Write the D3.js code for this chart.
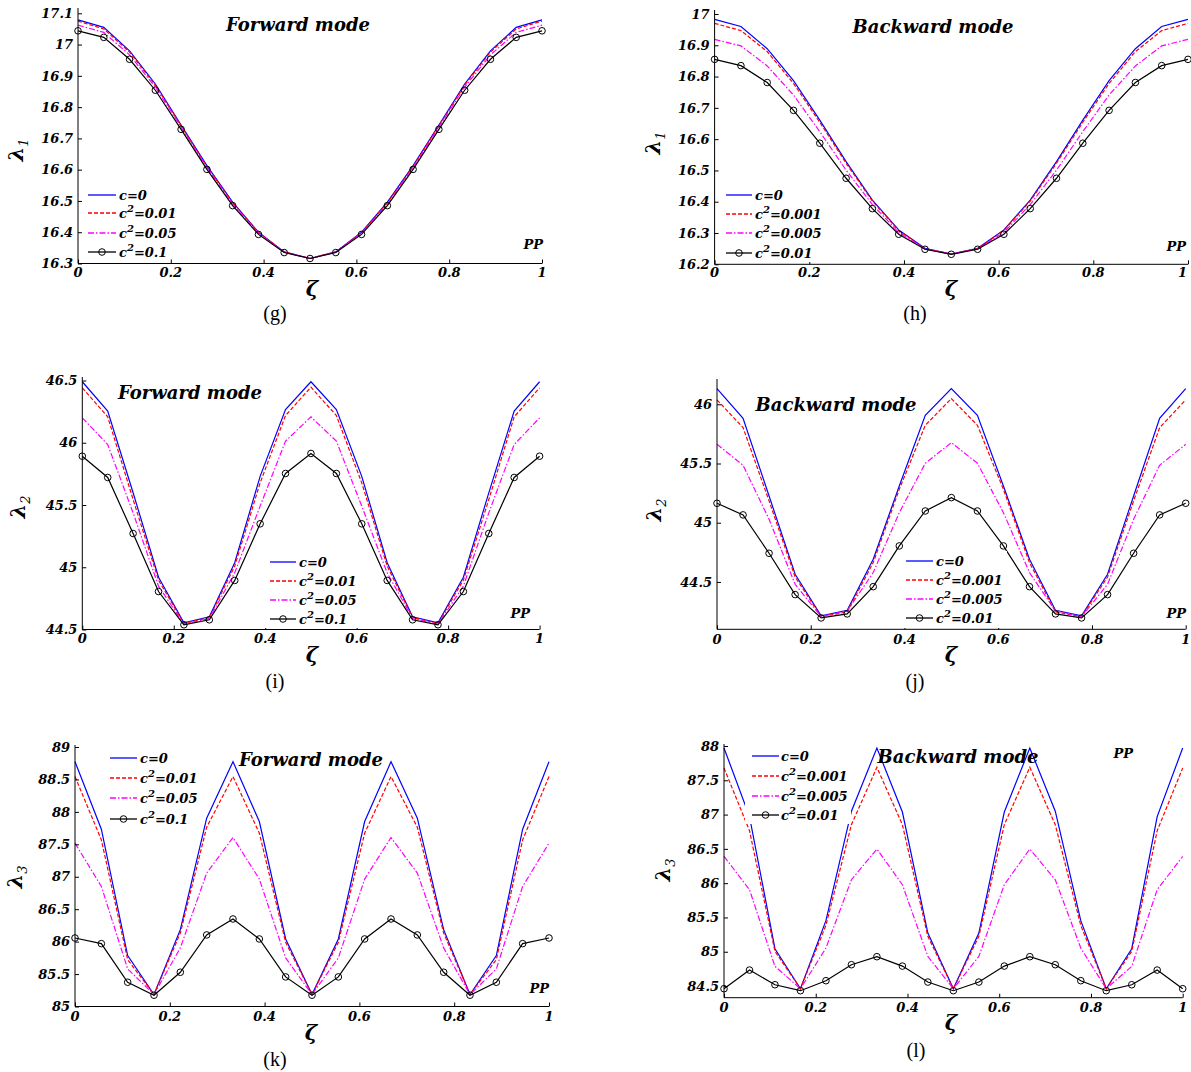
<!DOCTYPE html>
<html>
<head>
<meta charset="utf-8">
<script src="https://cdn.jsdelivr.net/npm/d3@7"></script>
<style>
  body { margin: 0; background: #fff; }
  svg { display: block; }
</style>
</head>
<body>
<svg id="fig" width="1191" height="1072"></svg>
<script>
// Dimensionless position along the period
const zeta = [0, 0.0556, 0.1111, 0.1667, 0.2222, 0.2778, 0.3333, 0.3889, 0.4444, 0.5,
              0.5556, 0.6111, 0.6667, 0.7222, 0.7778, 0.8333, 0.8889, 0.9444, 1];

// (g) first eigenvalue, forward mode
const g_c0   = [17.079, 17.055, 16.980, 16.874, 16.743, 16.613, 16.496, 16.400, 16.337, 16.316, 16.337, 16.400, 16.496, 16.613, 16.743, 16.874, 16.980, 17.055, 17.079];
const g_c001 = [17.075, 17.050, 16.976, 16.870, 16.740, 16.610, 16.494, 16.399, 16.337, 16.316, 16.337, 16.399, 16.494, 16.610, 16.740, 16.870, 16.976, 17.050, 17.075];
const g_c005 = [17.062, 17.039, 16.967, 16.864, 16.736, 16.607, 16.490, 16.397, 16.336, 16.316, 16.336, 16.397, 16.490, 16.607, 16.736, 16.864, 16.967, 17.039, 17.062];
const g_c01  = [17.044, 17.023, 16.953, 16.854, 16.729, 16.601, 16.485, 16.393, 16.335, 16.316, 16.335, 16.393, 16.485, 16.601, 16.729, 16.854, 16.953, 17.023, 17.044];

// (h) first eigenvalue, backward mode
const h_c0    = [16.983, 16.960, 16.889, 16.787, 16.661, 16.528, 16.405, 16.310, 16.251, 16.233, 16.251, 16.310, 16.405, 16.528, 16.661, 16.787, 16.889, 16.960, 16.983];
const h_c0001 = [16.970, 16.947, 16.880, 16.778, 16.654, 16.523, 16.402, 16.308, 16.250, 16.233, 16.250, 16.308, 16.402, 16.523, 16.654, 16.778, 16.880, 16.947, 16.970];
const h_c0005 = [16.919, 16.898, 16.834, 16.741, 16.624, 16.501, 16.391, 16.302, 16.249, 16.233, 16.249, 16.302, 16.391, 16.501, 16.624, 16.741, 16.834, 16.898, 16.919];
const h_c001  = [16.855, 16.835, 16.781, 16.692, 16.587, 16.475, 16.378, 16.296, 16.248, 16.232, 16.248, 16.296, 16.378, 16.475, 16.587, 16.692, 16.781, 16.835, 16.855];

// (i) second eigenvalue, forward mode
const i_c0   = [46.490, 46.254, 45.598, 44.920, 44.554, 44.602, 45.036, 45.730, 46.267, 46.490, 46.267, 45.730, 45.036, 44.602, 44.554, 44.920, 45.598, 46.254, 46.490];
const i_c001 = [46.441, 46.208, 45.544, 44.896, 44.548, 44.596, 45.009, 45.678, 46.219, 46.446, 46.219, 45.678, 45.009, 44.596, 44.548, 44.896, 45.544, 46.208, 46.441];
const i_c005 = [46.200, 45.986, 45.437, 44.848, 44.543, 44.588, 44.955, 45.491, 46.013, 46.208, 46.013, 45.491, 44.955, 44.588, 44.543, 44.848, 45.437, 45.986, 46.200];
const i_c01  = [45.892, 45.721, 45.271, 44.805, 44.538, 44.578, 44.894, 45.349, 45.753, 45.914, 45.753, 45.349, 44.894, 44.578, 44.538, 44.805, 45.271, 45.721, 45.892];

// (j) second eigenvalue, backward mode
const j_c0    = [46.132, 45.882, 45.226, 44.565, 44.213, 44.261, 44.691, 45.310, 45.907, 46.132, 45.907, 45.310, 44.691, 44.261, 44.213, 44.565, 45.226, 45.882, 46.132];
const j_c0001 = [46.037, 45.803, 45.184, 44.542, 44.207, 44.247, 44.663, 45.282, 45.823, 46.048, 45.823, 45.282, 44.663, 44.247, 44.207, 44.542, 45.184, 45.803, 46.037];
const j_c0005 = [45.662, 45.485, 45.029, 44.480, 44.207, 44.255, 44.579, 45.085, 45.502, 45.676, 45.502, 45.085, 44.579, 44.255, 44.207, 44.480, 45.029, 45.485, 45.662];
const j_c001  = [45.164, 45.066, 44.742, 44.393, 44.196, 44.230, 44.460, 44.804, 45.099, 45.212, 45.099, 44.804, 44.460, 44.230, 44.196, 44.393, 44.742, 45.066, 45.164];

// (k) third eigenvalue, forward mode
const k_c0   = [88.774, 87.733, 85.785, 85.185, 86.185, 87.903, 88.774, 87.851, 86.041, 85.185, 86.041, 87.851, 88.774, 87.903, 86.185, 85.185, 85.785, 87.733, 88.774];
const k_c001 = [88.544, 87.569, 85.723, 85.185, 86.133, 87.764, 88.544, 87.672, 85.990, 85.185, 85.990, 87.672, 88.544, 87.764, 86.133, 85.185, 85.723, 87.569, 88.544];
const k_c005 = [87.518, 86.851, 85.579, 85.185, 85.903, 87.056, 87.605, 86.964, 85.749, 85.185, 85.749, 86.964, 87.605, 87.056, 85.903, 85.185, 85.579, 86.851, 87.518];
const k_c01  = [86.056, 85.969, 85.374, 85.174, 85.528, 86.103, 86.349, 86.041, 85.456, 85.174, 85.456, 86.041, 86.349, 86.103, 85.528, 85.174, 85.374, 85.969, 86.056];

// (l) third eigenvalue, backward mode
const l_c0    = [87.971, 86.970, 85.044, 84.461, 85.453, 87.050, 87.971, 87.037, 85.273, 84.461, 85.273, 87.037, 87.971, 87.050, 85.453, 84.461, 85.044, 86.970, 87.971];
const l_c0001 = [87.679, 86.765, 85.005, 84.461, 85.385, 86.853, 87.689, 86.853, 85.224, 84.461, 85.224, 86.853, 87.689, 86.853, 85.385, 84.461, 85.005, 86.765, 87.679];
const l_c0005 = [86.391, 85.905, 84.787, 84.461, 85.054, 86.050, 86.498, 85.978, 84.932, 84.461, 84.932, 85.978, 86.498, 86.050, 85.054, 84.461, 84.787, 85.905, 86.391];
const l_c001  = [84.461, 84.733, 84.519, 84.432, 84.578, 84.811, 84.928, 84.791, 84.558, 84.432, 84.558, 84.791, 84.928, 84.811, 84.578, 84.432, 84.519, 84.733, 84.461];

// Tick labels
const xTicks = [0, 0.2, 0.4, 0.6, 0.8, 1];
const yTicksG = [16.3, 16.4, 16.5, 16.6, 16.7, 16.8, 16.9, 17, 17.1];
const yTicksH = [16.2, 16.3, 16.4, 16.5, 16.6, 16.7, 16.8, 16.9, 17];
const yTicksI = [44.5, 45, 45.5, 46, 46.5];
const yTicksJ = [44.5, 45, 45.5, 46];
const yTicksK = [85, 85.5, 86, 86.5, 87, 87.5, 88, 88.5, 89];
const yTicksL = [84.5, 85, 85.5, 86, 86.5, 87, 87.5, 88];

// Legend entries: [base symbol, superscript, value text]
const legendForward  = [["c", "", "=0"], ["c", "2", "=0.01"], ["c", "2", "=0.05"], ["c", "2", "=0.1"]];
const legendBackward = [["c", "", "=0"], ["c", "2", "=0.001"], ["c", "2", "=0.005"], ["c", "2", "=0.01"]];

// Line styles, one per curve
const styles = [
  { stroke: "#0000ff", dash: null, marker: false },
  { stroke: "#ff0000", dash: "4,2", marker: false },
  { stroke: "#ff00ff", dash: "6,2,1.5,2", marker: false },
  { stroke: "#000000", dash: null, marker: true }
];

const panels = [
  { tag: "(g)", title: "Forward mode", sub: "1", series: [g_c0, g_c001, g_c005, g_c01], legend: legendForward,
    yTicks: yTicksG, yDomain: [16.3, 17.1], x0: 78, x1: 542, yB: 263.5, yT: 13.3, axisTop: 8,
    titleXY: [298, 31], ppXY: [543, 249], lamXY: [23, 150], zetaXY: [312, 296], tagXY: [275, 320], xLabY: 277,
    leg: { bx: 84, by: 184, bw: 86, bh: 78, lx0: 88, lx1: 116, tx: 119, rows: [195, 213, 233, 252] } },
  { tag: "(h)", title: "Backward mode", sub: "1", series: [h_c0, h_c0001, h_c0005, h_c001], legend: legendBackward,
    yTicks: yTicksH, yDomain: [16.2, 17.0], x0: 714.6, x1: 1188, yB: 264.3, yT: 14, axisTop: 10,
    titleXY: [933, 33], ppXY: [1186, 251], lamXY: [660, 143], zetaXY: [951, 296], tagXY: [915, 320], xLabY: 277,
    leg: { bx: 721, by: 184, bw: 94, bh: 78, lx0: 726, lx1: 752, tx: 755, rows: [195, 214, 233, 253] } },
  { tag: "(i)", title: "Forward mode", sub: "2", series: [i_c0, i_c001, i_c005, i_c01], legend: legendForward,
    yTicks: yTicksI, yDomain: [44.5, 46.5], x0: 82.3, x1: 539.6, yB: 629.5, yT: 380.5, axisTop: 377,
    titleXY: [190, 399], ppXY: [530, 618], lamXY: [25, 507], zetaXY: [312, 662], tagXY: [275, 688], xLabY: 643,
    leg: { bx: 265, by: 551, bw: 100, bh: 77, lx0: 270, lx1: 296, tx: 299, rows: [562, 581, 600, 619] } },
  { tag: "(j)", title: "Backward mode", sub: "2", series: [j_c0, j_c0001, j_c0005, j_c001], legend: legendBackward,
    yTicks: yTicksJ, yDomain: [44.1, 46.2], x0: 717, x1: 1185.7, yB: 629.3, yT: 380.6, axisTop: 379,
    titleXY: [836, 411], ppXY: [1186, 618], lamXY: [661, 510], zetaXY: [951, 662], tagXY: [915, 688], xLabY: 644,
    leg: { bx: 902, by: 551, bw: 105, bh: 77, lx0: 906, lx1: 933, tx: 936, rows: [561, 580, 599, 618] } },
  { tag: "(k)", title: "Forward mode", sub: "3", series: [k_c0, k_c001, k_c005, k_c01], legend: legendForward,
    yTicks: yTicksK, yDomain: [85, 89], x0: 75, x1: 549, yB: 1006.5, yT: 747, axisTop: 745,
    titleXY: [311, 766], ppXY: [549, 993], lamXY: [22, 877], zetaXY: [311, 1040], tagXY: [275, 1066], xLabY: 1021,
    leg: { bx: 106, by: 748, bw: 94, bh: 79, lx0: 110, lx1: 137, tx: 140, rows: [758, 778, 798, 819] } },
  { tag: "(l)", title: "Backward mode", sub: "3", series: [l_c0, l_c0001, l_c0005, l_c001], legend: legendBackward,
    yTicks: yTicksL, yDomain: [84.33, 88], x0: 724, x1: 1182.7, yB: 997.7, yT: 746, axisTop: 744,
    titleXY: [958, 763], ppXY: [1133, 758], lamXY: [670, 870], zetaXY: [951, 1030], tagXY: [916, 1057], xLabY: 1012,
    leg: { bx: 745, by: 744, bw: 106, bh: 80, lx0: 752, lx1: 779, tx: 781, rows: [756, 776, 796, 815] } }
];

const svg = d3.select("#fig");
const W = +svg.attr("width");
const tickFont = "'DejaVu Serif', serif";
const fmt = v => String(+v.toFixed(2));

panels.forEach(p => {
  const x = d3.scaleLinear().domain([0, 1]).range([p.x0, p.x1]);
  const y = d3.scaleLinear().domain(p.yDomain).range([p.yB, p.yT]);
  const g = svg.append("g");

  // Curves
  p.series.forEach((vals, si) => {
    const st = styles[si];
    const pts = zeta.map((z, i) => [z, vals[i]]);
    g.append("path")
      .datum(pts)
      .attr("fill", "none")
      .attr("stroke", st.stroke)
      .attr("stroke-width", 1.2)
      .attr("stroke-dasharray", st.dash)
      .attr("d", d3.line().x(d => x(d[0])).y(d => y(d[1])));
    if (st.marker) {
      g.selectAll(null).data(pts).enter().append("circle")
        .attr("cx", d => x(d[0])).attr("cy", d => y(d[1]))
        .attr("r", 3.3).attr("fill", "none")
        .attr("stroke", st.stroke).attr("stroke-width", 1);
    }
  });

  // Axes (left and bottom, ticks pointing inward)
  const xAxis = d3.axisBottom(x).tickValues(xTicks).tickSize(-4).tickFormat(fmt).tickSizeOuter(0);
  const gx = g.append("g").attr("transform", `translate(0,${p.yB})`).call(xAxis);
  gx.select(".domain").attr("stroke", "#000").attr("d", `M${p.x0},0H${p.x1}`);
  gx.selectAll(".tick line").attr("stroke", "#000");
  gx.selectAll(".tick text").remove();
  g.selectAll(null).data(xTicks).enter().append("text")
    .attr("x", d => Math.min(x(d), W - 4)).attr("y", p.xLabY)
    .attr("text-anchor", d => x(d) > W - 4 ? "end" : "middle")
    .style("font-family", tickFont).style("font-weight", "bold").style("font-style", "italic")
    .style("font-size", "13px")
    .text(fmt);

  const yAxis = d3.axisLeft(y).tickValues(p.yTicks).tickSize(-4).tickSizeOuter(0).tickFormat(fmt);
  const gy = g.append("g").attr("transform", `translate(${p.x0},0)`).call(yAxis);
  gy.select(".domain").attr("stroke", "#000").attr("d", `M0,${p.axisTop}V${p.yB}`);
  gy.selectAll(".tick line").attr("stroke", "#000");
  gy.selectAll(".tick text")
    .attr("x", -5)
    .style("font-family", tickFont).style("font-weight", "bold").style("font-style", "italic")
    .style("font-size", "13px").attr("fill", "#000");

  // Legend with opaque background
  const L = p.leg;
  g.append("rect").attr("x", L.bx).attr("y", L.by).attr("width", L.bw).attr("height", L.bh).attr("fill", "#fff");
  p.legend.forEach((ent, si) => {
    const st = styles[si];
    const ry = L.rows[si];
    g.append("line").attr("x1", L.lx0).attr("x2", L.lx1).attr("y1", ry).attr("y2", ry)
      .attr("stroke", st.stroke).attr("stroke-width", 1.3).attr("stroke-dasharray", st.dash);
    if (st.marker) {
      g.append("circle").attr("cx", (L.lx0 + L.lx1) / 2).attr("cy", ry).attr("r", 3.3)
        .attr("fill", "none").attr("stroke", st.stroke).attr("stroke-width", 1);
    }
    const t = g.append("text").attr("x", L.tx).attr("y", ry + 5)
      .style("font-family", tickFont).style("font-weight", "bold").style("font-style", "italic")
      .style("font-size", "13px");
    t.append("tspan").text(ent[0]);
    if (ent[1]) {
      t.append("tspan").attr("dy", -6).style("font-size", "10px").text(ent[1]);
      t.append("tspan").attr("dy", 6).text(ent[2]);
    } else {
      t.append("tspan").text(ent[2]);
    }
  });

  // Mode title and PP marker
  g.append("text").attr("x", p.titleXY[0]).attr("y", p.titleXY[1]).attr("text-anchor", "middle")
    .style("font-family", tickFont).style("font-weight", "bold").style("font-style", "italic")
    .style("font-size", "18px").text(p.title);
  g.append("text").attr("x", p.ppXY[0]).attr("y", p.ppXY[1]).attr("text-anchor", "end")
    .style("font-family", tickFont).style("font-weight", "bold").style("font-style", "italic")
    .style("font-size", "13px").text("PP");

  // Axis labels
  const lam = g.append("text")
    .attr("transform", `translate(${p.lamXY[0]},${p.lamXY[1]}) rotate(-90)`)
    .attr("text-anchor", "middle")
    .style("font-family", tickFont).style("font-style", "italic").style("font-weight", "bold")
    .style("font-size", "21px");
  lam.append("tspan").text("λ");
  lam.append("tspan").attr("dy", 5).style("font-size", "13px").style("font-weight", "normal").text(p.sub);

  g.append("text").attr("x", p.zetaXY[0]).attr("y", p.zetaXY[1]).attr("text-anchor", "middle")
    .style("font-family", tickFont).style("font-style", "italic").style("font-weight", "bold")
    .style("font-size", "21px").text("ζ");

  g.append("text").attr("x", p.tagXY[0]).attr("y", p.tagXY[1]).attr("text-anchor", "middle")
    .style("font-family", "'Liberation Serif', 'Times New Roman', serif")
    .style("font-size", "20px").text(p.tag);
});
</script>
</body>
</html>
